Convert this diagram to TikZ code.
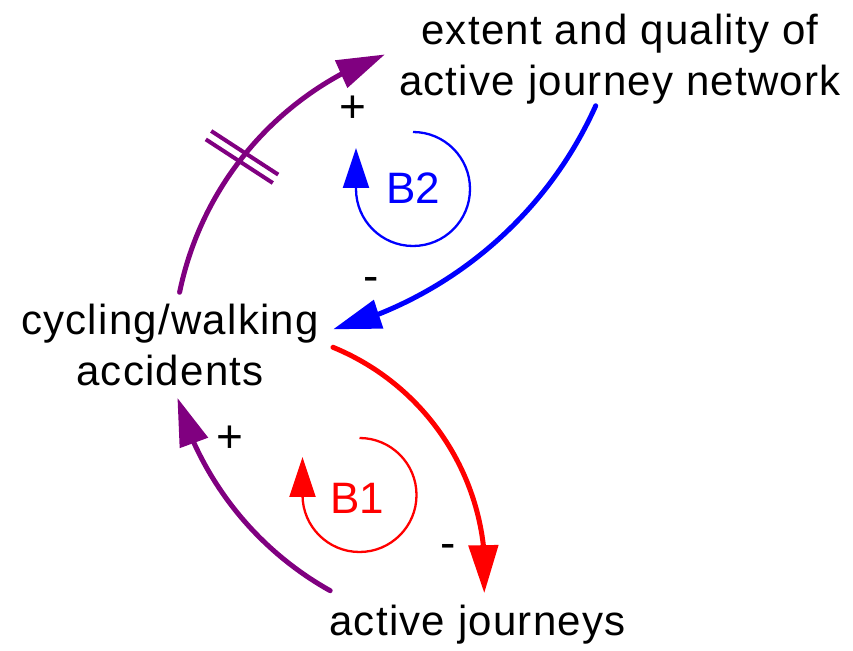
\documentclass[tikz,border=0pt]{standalone}
\usepackage{fontspec}
\setmainfont{Liberation Sans}
\newfontfamily\varfont[LetterSpace=3]{Liberation Sans}
\usetikzlibrary{arrows.meta,bending}
\definecolor{cldpurple}{RGB}{128,0,128}
\definecolor{cldblue}{RGB}{0,0,255}
\definecolor{cldred}{RGB}{255,0,0}
\begin{document}
\begin{tikzpicture}[x=1pt,y=1pt,
  var/.style={inner sep=0pt, anchor=base, font=\varfont\fontsize{42}{51}\selectfont},
  sign/.style={inner sep=0pt, anchor=base, font=\fontsize{46}{52}\selectfont},
  loopname/.style={inner sep=0pt, font=\fontsize{44}{50}\selectfont},
  link/.style={line width=5pt, line cap=round, -{Triangle[length=48pt,width=29pt]}},
  looparrow/.style={line width=2.3pt, -{Triangle[length=40pt,width=26pt]}},
  delaymark/.style={line width=4pt, cldpurple},
]
\useasboundingbox (0,0) rectangle (853,650);

% variables
\node[var] (ext) at (620,605) {\begin{tabular}[t]{@{}c@{}}extent and quality of\\active journey network\end{tabular}};
\node[var] (acc) at (170,315) {\begin{tabular}[t]{@{}c@{}}cycling/walking\\accidents\end{tabular}};
\node[var] (aj) at (477.5,15) {active journeys};

% connector start points
\coordinate (accup) at (179.6,357.7);
\coordinate (extout) at (595.7,544.2);
\coordinate (accout) at (333,302.7);
\coordinate (ajout) at (330.2,59.3);
\coordinate (dm) at (242,493);

% links
\draw[link, cldpurple] (accup) arc[start angle=168.4, end angle=110, radius=322pt];
\draw[link, cldblue] (extout) arc[start angle=-24.2, end angle=-75, radius=402pt];
\draw[link, cldred] (accout) arc[start angle=67.7, end angle=-4.5, radius=245pt];
\draw[link, cldpurple] (ajout) arc[start angle=-119.15, end angle=-164.07, radius=322pt];

% delay mark
\draw[delaymark] ([shift={(-30.8,26.0)}]dm) -- ([shift={(36.2,-17.6)}]dm);
\draw[delaymark] ([shift={(-36.2,17.6)}]dm) -- ([shift={(30.8,-26.0)}]dm);

% polarities
\node[sign] (s1) at (353,527) {+};
\node[sign] (s2) at (371.5,358.6) {-};
\node[sign] (s3) at (230,197) {+};
\node[sign] (s4) at (448,91.6) {-};

% loops
\draw[looparrow, cldblue] (413,518) arc[start angle=90, end angle=-180, radius=57pt] -- ++(0,41);
\node[loopname, text=cldblue] (b2) at (413.5,462) {B2};
\draw[looparrow, cldred] (359.5,212) arc[start angle=90, end angle=-180, radius=57pt] -- ++(0,38);
\node[loopname, text=cldred] (b1) at (357.5,152) {B1};
\end{tikzpicture}
\end{document}
